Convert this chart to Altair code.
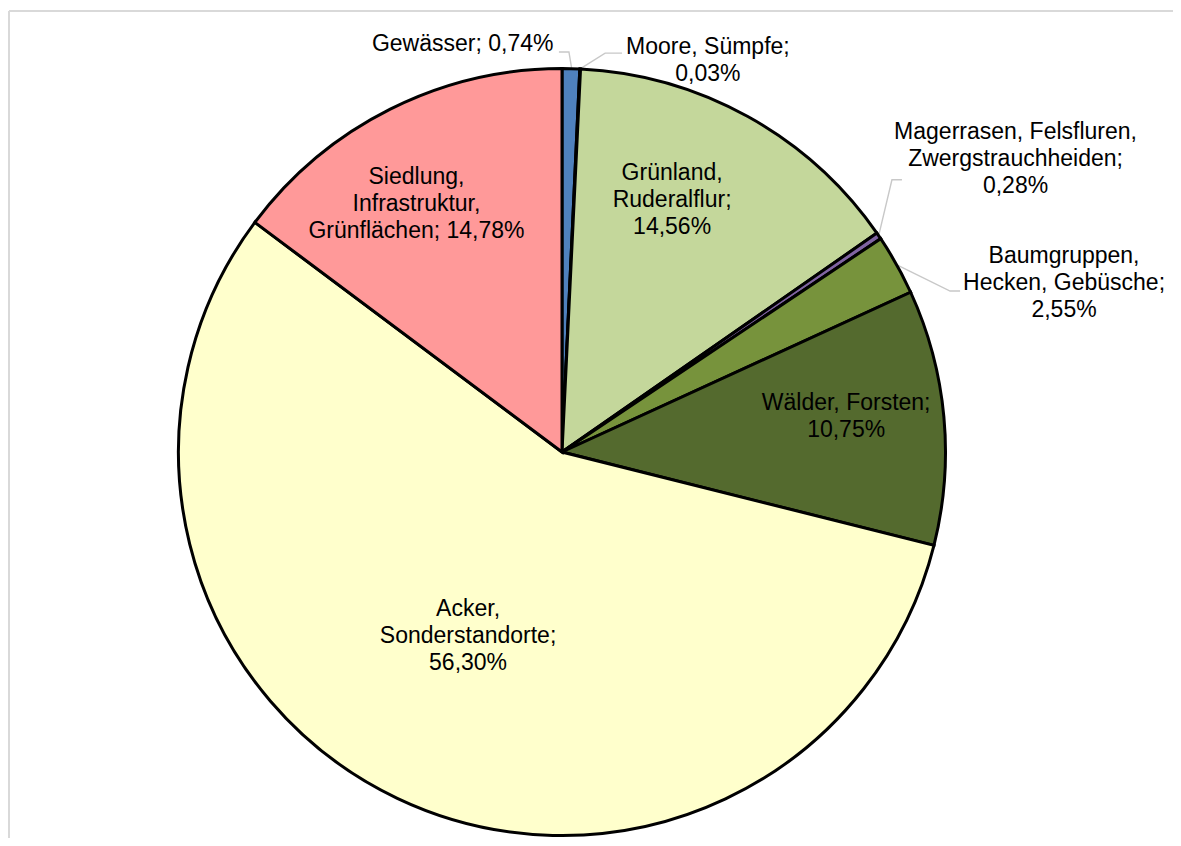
import altair as alt
import pandas as pd

# ---- data ----
names = ["Gewässer", "Moore, Sümpfe", "Grünland, Ruderalflur",
         "Magerrasen, Felsfluren, Zwergstrauchheiden",
         "Baumgruppen, Hecken, Gebüsche", "Wälder, Forsten",
         "Acker, Sonderstandorte", "Siedlung, Infrastruktur, Grünflächen"]
values = [0.74, 0.03, 14.56, 0.28, 2.55, 10.75, 56.30, 14.78]
label_names = ["Gewässer;", "Moore, Sümpfe;\n", "Grünland,\nRuderalflur;\n",
               "Magerrasen, Felsfluren,\nZwergstrauchheiden;\n",
               "Baumgruppen,\nHecken, Gebüsche;\n", "Wälder, Forsten;\n",
               "Acker,\nSonderstandorte;\n", "Siedlung,\nInfrastruktur,\nGrünflächen;"]
colors = ["#4F81BD", "#17375E", "#C4D79B", "#8064A2", "#77933C", "#546A2E",
          "#FFFFCC", "#FF9999"]

# label block centres (in units of the pie radius, centre = 0,0)
label_x = [-0.258, 0.379, 0.286, 1.178, 1.304, 0.738, -0.244, -0.378]
label_y = [1.060, 1.018, 0.655, 0.762, 0.439, 0.091, -0.478, 0.643]

# leader lines (pie-radius units)
leader_group = ["Gewässer"] * 3 + ["Moore"] * 3 + ["Mager"] * 3 + ["Baum"] * 3
leader_step = [0, 1, 2] * 4
leader_x = [-0.008, 0.018, 0.025, 0.156, 0.112, 0.047,
            0.883, 0.857, 0.823, 1.034, 1.008, 0.870]
leader_y = [1.039, 1.039, 0.997, 1.036, 1.036, 0.995,
            0.707, 0.707, 0.564, 0.418, 0.418, 0.486]

# ---- layout ----
W, H = 1165, 830
R = 385.0
CX, CY = 554.0, 444.0
LH = 27
xscale = alt.Scale(domain=[-CX / R, (W - CX) / R], range=[0, W], nice=False, zero=False)
yscale = alt.Scale(domain=[-(H - CY) / R, CY / R], range=[H, 0], nice=False, zero=False)


def fmt(v):
    return f"{v:.2f}".replace(".", ",") + "%"


labels = [n + ("" if n.endswith("\n") else " ") + fmt(v) for n, v in zip(label_names, values)]
# first-line anchor so that the whole block is centred on the given point
first_y = [ly + (lab.count("\n") * LH / 2) / R for ly, lab in zip(label_y, labels)]

df = pd.DataFrame({
    "name": names,
    "value": values,
    "idx": list(range(len(names))),
    "label": labels,
    "lx": label_x,
    "ly": first_y,
    "cx": [0.0] * len(names),
    "cy": [0.0] * len(names),
})

lines_df = pd.DataFrame({"g": leader_group, "s": leader_step, "x": leader_x, "y": leader_y})

pie = alt.Chart(df).mark_arc(outerRadius=R - 1.5, stroke="black", strokeWidth=3).encode(
    theta=alt.Theta("value:Q", stack=True),
    order=alt.Order("idx:Q"),
    color=alt.Color("name:N", scale=alt.Scale(domain=names, range=colors), legend=None),
    x=alt.X("cx:Q", scale=xscale, axis=None),
    y=alt.Y("cy:Q", scale=yscale, axis=None),
)

text = alt.Chart(df).mark_text(
    lineBreak="\n", font="Liberation Sans", fontSize=23, lineHeight=LH,
    align="center", baseline="middle", color="#000000"
).encode(
    x=alt.X("lx:Q", scale=xscale, axis=None),
    y=alt.Y("ly:Q", scale=yscale, axis=None),
    text="label:N",
)

leaders = alt.Chart(lines_df).mark_line(color="#C8C8C8", strokeWidth=1.4).encode(
    x=alt.X("x:Q", scale=xscale, axis=None),
    y=alt.Y("y:Q", scale=yscale, axis=None),
    detail="g:N",
    order="s:Q",
)

frame_df = pd.DataFrame({"k": [0]})
top_line = alt.Chart(frame_df).mark_rule(color="#D9D9D9", strokeWidth=2).encode(
    x=alt.value(1), x2=alt.value(W), y=alt.value(3))
left_line = alt.Chart(frame_df).mark_rule(color="#D9D9D9", strokeWidth=2).encode(
    x=alt.value(1), y=alt.value(3), y2=alt.value(H))

chart = alt.layer(top_line, left_line, leaders, pie, text).properties(
    width=W, height=H, padding=0, autosize=alt.AutoSizeParams(type="none")
).configure_view(stroke=None)

chart.save("out.html", embed_options={"renderer": "svg", "actions": False})
